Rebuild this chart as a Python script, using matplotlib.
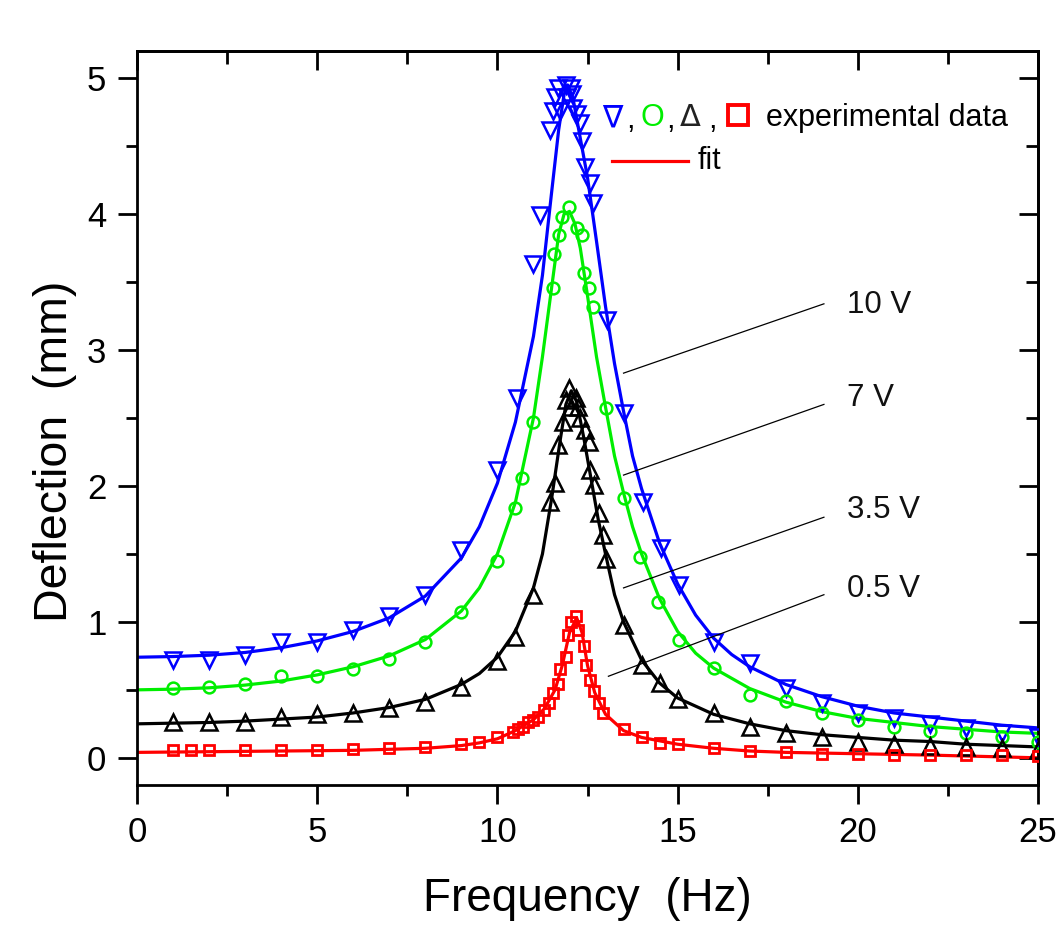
import matplotlib
matplotlib.use("Agg")
import matplotlib.pyplot as plt
from matplotlib.ticker import MultipleLocator

plt.rcParams['font.family'] = ['Liberation Sans', 'DejaVu Sans']

# ---------------- data ----------------
blue_x = [1, 2, 3, 4, 5, 6, 7, 8, 9, 10, 10.53, 11.0, 11.19, 11.47, 11.53, 11.61, 11.67, 11.75,
          11.89, 11.94, 12.03, 12.08, 12.11, 12.22, 12.3, 12.36, 12.44, 12.58, 12.64, 13.05, 13.5,
          14.03, 14.53, 15.03, 16, 17, 18, 19, 20, 21, 22, 23, 24, 25]
blue_y = [0.72, 0.72, 0.76, 0.85, 0.85, 0.94, 1.04, 1.2, 1.53, 2.12, 2.65, 3.63, 3.99, 4.62, 4.76,
          4.86, 4.93, 4.76, 4.95, 4.86, 4.93, 4.88, 4.78, 4.74, 4.67, 4.54, 4.35, 4.23, 4.08, 3.22,
          2.54, 1.88, 1.54, 1.27, 0.85, 0.70, 0.51, 0.40, 0.33, 0.29, 0.25, 0.22, 0.18, 0.15]

green_x = [1, 2, 3, 4, 5, 6, 7, 8, 9, 10, 10.5, 10.69, 11.0, 11.53, 11.58, 11.72, 11.8, 12.0,
           12.22, 12.36, 12.39, 12.53, 12.64, 13.02, 13.5, 13.97, 14.47, 15.03, 16, 17, 18, 19,
           20, 21, 22, 23, 24, 25]
green_y = [0.51, 0.52, 0.54, 0.60, 0.60, 0.65, 0.73, 0.85, 1.07, 1.45, 1.84, 2.06, 2.47, 3.46,
           3.71, 3.85, 3.98, 4.05, 3.90, 3.85, 3.57, 3.46, 3.32, 2.57, 1.91, 1.48, 1.15, 0.87,
           0.66, 0.46, 0.42, 0.33, 0.28, 0.23, 0.20, 0.18, 0.15, 0.12]

black_x = [1, 2, 3, 4, 5, 6, 7, 8, 9, 10, 10.5, 11.0, 11.47, 11.61, 11.69, 11.83, 11.89, 12.0,
           12.03, 12.17, 12.25, 12.3, 12.44, 12.53, 12.58, 12.67, 12.81, 12.92, 13.0, 13.5, 14.0,
           14.5, 15.0, 16, 17, 18, 19, 20, 21, 22, 23, 24, 25]
black_y = [0.26, 0.26, 0.26, 0.30, 0.32, 0.33, 0.37, 0.41, 0.52, 0.71, 0.89, 1.20, 1.88, 2.02,
           2.30, 2.47, 2.63, 2.72, 2.58, 2.65, 2.58, 2.50, 2.41, 2.32, 2.12, 2.01, 1.80, 1.64,
           1.46, 0.98, 0.68, 0.55, 0.43, 0.33, 0.23, 0.18, 0.15, 0.12, 0.10, 0.09, 0.08, 0.07, 0.06]

red_x = [1, 1.5, 2, 3, 4, 5, 6, 7, 8, 9, 9.5, 10, 10.44, 10.58, 10.72, 10.86, 11.0, 11.14,
         11.28, 11.42, 11.53, 11.67, 11.75, 11.9, 11.97, 12.05, 12.19, 12.25, 12.39, 12.47,
         12.58, 12.67, 12.81, 12.94, 13.5, 14, 14.5, 15, 16, 17, 18, 19, 20, 21, 22, 23, 24, 25]
red_y = [0.06, 0.06, 0.06, 0.06, 0.06, 0.06, 0.065, 0.07, 0.08, 0.10, 0.12, 0.15, 0.19, 0.21,
         0.23, 0.26, 0.28, 0.30, 0.35, 0.40, 0.48, 0.54, 0.65, 0.74, 0.90, 1.00, 1.04, 0.94,
         0.82, 0.68, 0.57, 0.49, 0.40, 0.33, 0.21, 0.15, 0.11, 0.10, 0.07, 0.05, 0.04, 0.03,
         0.03, 0.02, 0.02, 0.02, 0.02, 0.01]

# fit curves
blue_fit_x = [0, 1, 2, 3, 4, 5, 6, 7, 8, 9, 9.5, 10, 10.5, 11, 11.25, 11.5, 11.7, 11.85, 11.95,
              12.1, 12.25, 12.5, 12.75, 13.0, 13.25, 13.5, 13.75, 14, 14.5, 15, 15.5, 16, 16.5,
              17, 18, 19, 20, 21, 22, 23, 24, 25]
blue_fit_y = [0.74, 0.745, 0.755, 0.775, 0.81, 0.86, 0.93, 1.03, 1.19, 1.47, 1.70, 2.02, 2.47,
              3.10, 3.55, 4.15, 4.62, 4.88, 4.95, 4.85, 4.63, 4.27, 3.80, 3.32, 2.90, 2.55, 2.22,
              1.98, 1.58, 1.28, 1.05, 0.88, 0.76, 0.67, 0.54, 0.45, 0.38, 0.33, 0.30, 0.27, 0.24,
              0.22]

green_fit_x = [0, 1, 2, 3, 4, 5, 6, 7, 8, 9, 9.5, 10, 10.5, 11, 11.25, 11.5, 11.7, 11.85, 12.0,
               12.15, 12.3, 12.5, 12.75, 13.0, 13.25, 13.5, 13.75, 14, 14.5, 15, 15.5, 16, 17,
               18, 19, 20, 21, 22, 23, 24, 25]
green_fit_y = [0.50, 0.505, 0.515, 0.535, 0.565, 0.61, 0.67, 0.75, 0.87, 1.08, 1.25, 1.50, 1.88,
               2.50, 2.95, 3.45, 3.85, 4.00, 4.02, 3.93, 3.75, 3.40, 2.95, 2.58, 2.22, 1.95, 1.70,
               1.50, 1.17, 0.93, 0.77, 0.66, 0.51, 0.41, 0.34, 0.29, 0.26, 0.23, 0.21, 0.19, 0.18]

black_fit_x = [0, 1, 2, 3, 4, 5, 6, 7, 8, 9, 9.5, 10, 10.5, 11, 11.25, 11.5, 11.75, 11.9, 12.05,
               12.2, 12.4, 12.6, 12.8, 13.0, 13.25, 13.5, 14, 14.5, 15, 16, 17, 18, 19, 20, 21,
               22, 23, 24, 25]
black_fit_y = [0.25, 0.255, 0.26, 0.27, 0.285, 0.30, 0.33, 0.37, 0.43, 0.54, 0.62, 0.74, 0.93,
               1.25, 1.50, 1.90, 2.35, 2.60, 2.70, 2.62, 2.35, 2.05, 1.75, 1.50, 1.20, 1.00, 0.72,
               0.55, 0.44, 0.32, 0.25, 0.20, 0.17, 0.15, 0.13, 0.12, 0.10, 0.09, 0.08]

red_fit_x = [0, 2, 4, 6, 8, 9, 9.5, 10, 10.5, 11, 11.3, 11.6, 11.8, 12.0, 12.2, 12.35, 12.5,
             12.7, 13.0, 13.5, 14, 15, 16, 17, 18, 20, 22, 25]
red_fit_y = [0.04, 0.045, 0.05, 0.055, 0.07, 0.09, 0.11, 0.14, 0.20, 0.28, 0.36, 0.50, 0.68,
             0.92, 1.03, 0.92, 0.68, 0.48, 0.32, 0.20, 0.15, 0.10, 0.07, 0.05, 0.04, 0.03, 0.02,
             0.0]

voltage_labels = ["10 V", "7 V", "3.5 V", "0.5 V"]
label_pos_x = [19.7, 19.7, 19.7, 19.7]
label_pos_y = [3.33, 2.65, 1.82, 1.24]
leader_start = [(13.5, 2.83), (13.5, 2.08), (13.5, 1.25), (13.08, 0.60)]
leader_end = [(19.06, 3.34), (19.06, 2.60), (19.06, 1.77), (19.06, 1.20)]

BLUE = '#0000ff'
GREEN = '#00ee00'
BLACK = '#000000'
RED = '#ff0000'

fig = plt.figure(figsize=(10.64, 9.25), dpi=100)
ax = fig.add_axes([137 / 1064, 1 - 785 / 925, (1038 - 137) / 1064, (785 - 51) / 925])

lw = 2.3
ax.plot(blue_fit_x, blue_fit_y, color=BLUE, lw=lw, zorder=2)
ax.plot(green_fit_x, green_fit_y, color=GREEN, lw=lw, zorder=2)
ax.plot(black_fit_x, black_fit_y, color=BLACK, lw=lw, zorder=2)
ax.plot(red_fit_x, red_fit_y, color=RED, lw=lw, zorder=2)

ax.plot(blue_x, blue_y, ls='none', marker='v', ms=11.5, mfc='none', mec=BLUE, mew=1.8, zorder=3)
ax.plot(green_x, green_y, ls='none', marker='o', ms=8.5, mfc='none', mec=GREEN, mew=1.8, zorder=3)
ax.plot(black_x, black_y, ls='none', marker='^', ms=11.5, mfc='none', mec=BLACK, mew=1.8, zorder=3)
ax.plot(red_x, red_y, ls='none', marker='s', ms=7.5, mfc='none', mec=RED, mew=2.0, zorder=3)

# leader lines and voltage labels
for (x0, y0), (x1, y1), t, tx, ty in zip(leader_start, leader_end, voltage_labels,
                                          label_pos_x, label_pos_y):
    ax.plot([x0, x1], [y0, y1], color='black', lw=0.9, zorder=4)
    ax.text(tx, ty, t, fontsize=22.5, ha='left', va='center', color='#111111')

# legend made of text pieces
ly = 4.71
ax.text(13.19, ly, "\u2207", color=BLUE, fontsize=22, ha='center', va='center',
        family=['DejaVu Sans'])
ax.text(13.69, ly - 0.02, ",", color=BLACK, fontsize=22, ha='center', va='center')
ax.text(14.30, ly, "O", color=GREEN, fontsize=22, ha='center', va='center')
ax.text(14.80, ly - 0.02, ",", color=BLACK, fontsize=22, ha='center', va='center')
ax.text(15.36, ly, "\u0394", color='#222222', fontsize=22, ha='center', va='center',
        family=['DejaVu Sans'])
ax.text(15.97, ly - 0.02, ",", color=BLACK, fontsize=22, ha='center', va='center')
ax.plot([16.67], [ly + 0.02], ls='none', marker='s', ms=14, mfc='none', mec=RED, mew=2.8)
ax.text(17.44, ly, "experimental data", color=BLACK, fontsize=22, ha='left', va='center')
ax.plot([13.19, 15.28], [4.39, 4.39], color=RED, lw=2.3)
ax.text(15.56, 4.39, "fit", color=BLACK, fontsize=22, ha='left', va='center')

ax.set_xlim(0, 25)
ax.set_ylim(-0.2, 5.2)
ax.xaxis.set_major_locator(MultipleLocator(5))
ax.xaxis.set_minor_locator(MultipleLocator(2.5))
ax.yaxis.set_major_locator(MultipleLocator(1))
ax.yaxis.set_minor_locator(MultipleLocator(0.5))

for s in ax.spines.values():
    s.set_linewidth(2.0)

ax.tick_params(axis='both', which='major', direction='out', length=14, width=2.0,
               labelsize=25, pad=8)
ax.tick_params(axis='both', which='minor', direction='out', length=8, width=2.0)

secx = ax.secondary_xaxis('top')
secx.xaxis.set_major_locator(MultipleLocator(5))
secx.xaxis.set_minor_locator(MultipleLocator(2.5))
secx.tick_params(which='major', direction='in', length=14, width=2.0, labeltop=False)
secx.tick_params(which='minor', direction='in', length=9, width=2.0)
secx.spines['top'].set_linewidth(2.0)

secy = ax.secondary_yaxis('right')
secy.yaxis.set_major_locator(MultipleLocator(1))
secy.yaxis.set_minor_locator(MultipleLocator(0.5))
secy.tick_params(which='major', direction='in', length=14, width=2.0, labelright=False)
secy.tick_params(which='minor', direction='in', length=9, width=2.0)
secy.spines['right'].set_linewidth(2.0)

ax.set_xlabel("Frequency  (Hz)", fontsize=33)
ax.set_ylabel("Deflection  (mm)", fontsize=33.5)
ax.yaxis.set_label_coords(-0.091, 0.455)
ax.xaxis.set_label_coords(0.5, -0.155)
ax.xaxis.label.set_va('center')
ax.yaxis.label.set_va('center')

fig.savefig("out.png", dpi=100)
